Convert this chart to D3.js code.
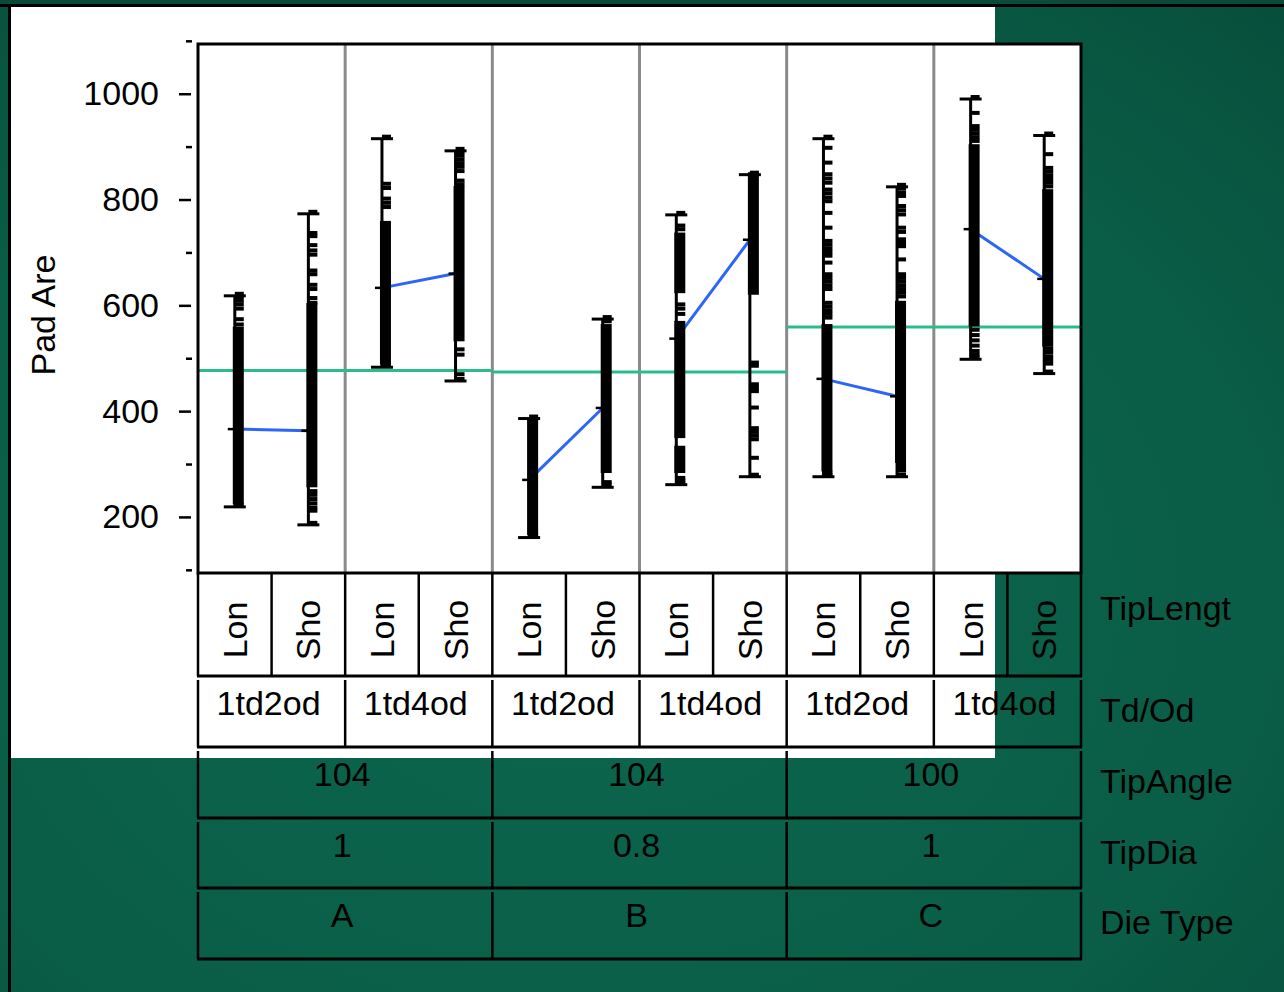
<!DOCTYPE html>
<html>
<head>
<meta charset="utf-8">
<script src="https://cdn.jsdelivr.net/npm/d3@7"></script>
<style>
  body { margin: 0; background: #0a5c45; }
  svg { display: block; font-family: "Liberation Sans", Arial, Helvetica, sans-serif; }
</style>
</head>
<body>
<svg id="chart" width="1284" height="992"></svg>
<script>
// ---- data -------------------------------------------------------------
const dieTypes   = ["A", "B", "C"];
const tipDias    = ["1", "0.8", "1"];
const tipAngles  = ["104", "104", "100"];
const tdOd       = ["1td2od", "1td4od"];
const tipLengths = ["Lon", "Sho"];
const rowTitles  = ["TipLengt", "Td/Od", "TipAngle", "TipDia", "Die Type"];
const yLabel     = "Pad Are";
const yTicks      = [200, 400, 600, 800, 1000];
const yMinorTicks = [100, 300, 500, 700, 900, 1100];

// groups in order: A·1td2od·Lon, A·1td2od·Sho, A·1td4od·Lon, A·1td4od·Sho, B..., C...
// stretches where the observations overlap into a solid run [low, high]
const denseRuns = [
  [[224, 552]],
  [[256, 597]],
  [[488, 752]],
  [[532, 818]],
  [[166, 380]],
  [[283, 557]],
  [[623, 730], [349, 563], [283, 327]],
  [[620, 844]],
  [[286, 557]],
  [[302, 601]],
  [[560, 897]],
  [[522, 812]]
];
// individually visible observations
const loosePoints = [
  [618, 612, 605, 598, 590, 570, 560, 219],
  [773, 733, 727, 710, 700, 692, 662, 655, 635, 627, 610, 601, 245, 238, 230, 222, 214, 208, 185],
  [915, 826, 818, 798, 790, 782, 483],
  [892, 886, 879, 872, 865, 858, 850, 832, 825, 513, 503, 466, 457],
  [386, 161],
  [574, 566, 262, 256],
  [771, 747, 740, 598, 590, 580, 270, 265, 261],
  [847, 488, 482, 447, 440, 434, 403, 364, 357, 350, 343, 308, 276],
  [915, 894, 866, 844, 836, 828, 815, 808, 800, 793, 771, 743, 718, 711, 704, 697, 690, 677,
   655, 648, 641, 634, 627, 601, 594, 587, 580, 573, 280, 276],
  [824, 818, 810, 803, 784, 776, 768, 743, 735, 721, 714, 708, 683, 655, 648, 641, 634, 627,
   620, 613, 295, 290, 284, 276],
  [990, 960, 935, 928, 921, 914, 907, 550, 540, 530, 520, 510, 503, 498],
  [921, 882, 856, 849, 842, 835, 828, 821, 515, 508, 500, 493, 486, 471]
];
const groupMeans = [366, 363, 633, 660, 270, 406, 537, 724, 461, 428, 744, 650];
const dieMeans   = [477, 474, 559];

// ---- layout -------------------------------------------------------------
const svg = d3.select("#chart");
const plot = { left: 198, right: 1081, top: 44, bottom: 573 };

// background
const defs = svg.append("defs");
const bg = defs.append("radialGradient").attr("id", "bg")
  .attr("cx", "0.45").attr("cy", "0.6").attr("r", "0.9");
bg.append("stop").attr("offset", "0").attr("stop-color", "#0c674e");
bg.append("stop").attr("offset", "0.6").attr("stop-color", "#0a5d46");
bg.append("stop").attr("offset", "1").attr("stop-color", "#064a38");
svg.append("rect").attr("width", 1284).attr("height", 992).attr("fill", "url(#bg)");
svg.append("rect").attr("x", 0).attr("y", 0).attr("width", 1284).attr("height", 5).attr("fill", "#0a4a39");
svg.append("line").attr("x1", 0).attr("x2", 1284).attr("y1", 5.5).attr("y2", 5.5)
  .attr("stroke", "#000").attr("stroke-width", 3);
svg.append("line").attr("x1", 9.5).attr("x2", 9.5).attr("y1", 5).attr("y2", 992)
  .attr("stroke", "#000").attr("stroke-width", 3);
svg.append("rect").attr("x", 11).attr("y", 7).attr("width", 984).attr("height", 751).attr("fill", "#fff");

// scales
const groupIds = [];
dieTypes.forEach(d => tdOd.forEach(t => tipLengths.forEach(l => groupIds.push(`${d}|${t}|${l}`))));
const cellIds = [];
dieTypes.forEach(d => tdOd.forEach(t => cellIds.push(`${d}|${t}`)));

const xGroup = d3.scaleBand().domain(groupIds).range([plot.left, plot.right]);
const xCell  = d3.scaleBand().domain(cellIds).range([plot.left, plot.right]);
const xDie   = d3.scaleBand().domain(dieTypes).range([plot.left, plot.right]);
const y = d3.scaleLinear().domain([94, 1094]).range([plot.bottom, plot.top]);

const groups = groupIds.map((id, i) => {
  const vals = loosePoints[i].concat(denseRuns[i].flat());
  return {
    id, cx: xGroup(id) + xGroup.bandwidth() / 2,
    runs: denseRuns[i], pts: loosePoints[i], mean: groupMeans[i],
    lo: d3.min(vals), hi: d3.max(vals)
  };
});

// plot area
svg.append("rect").attr("x", plot.left).attr("y", plot.top)
  .attr("width", plot.right - plot.left).attr("height", plot.bottom - plot.top).attr("fill", "#fff");

// cell separators
svg.append("g").selectAll("line").data(cellIds.slice(1)).join("line")
  .attr("x1", d => xCell(d)).attr("x2", d => xCell(d))
  .attr("y1", plot.top).attr("y2", plot.bottom)
  .attr("stroke", "#8a8a8a").attr("stroke-width", 3);

// die-type grand means
svg.append("g").selectAll("line").data(dieTypes).join("line")
  .attr("x1", d => xDie(d)).attr("x2", d => xDie(d) + xDie.bandwidth())
  .attr("y1", (d, i) => y(dieMeans[i])).attr("y2", (d, i) => y(dieMeans[i]))
  .attr("stroke", "#2cbb8b").attr("stroke-width", 3);

// cell means connecting Lon to Sho
const pairs = d3.range(0, groups.length, 2).map(i => [groups[i], groups[i + 1]]);
svg.append("g").selectAll("line").data(pairs).join("line")
  .attr("x1", d => d[0].cx).attr("y1", d => y(d[0].mean))
  .attr("x2", d => d[1].cx).attr("y2", d => y(d[1].mean))
  .attr("stroke", "#2b66f6").attr("stroke-width", 3);

const gMarks = svg.append("g");
// range bars
gMarks.selectAll("line.range").data(groups).join("line").attr("class", "range")
  .attr("x1", d => d.cx).attr("x2", d => d.cx)
  .attr("y1", d => y(d.hi)).attr("y2", d => y(d.lo))
  .attr("stroke", "#000").attr("stroke-width", 3);

// dense observation runs
gMarks.selectAll("g.runs").data(groups).join("g").attr("class", "runs")
  .selectAll("rect").data(d => d.runs.map(r => ({ cx: d.cx, r }))).join("rect")
  .attr("x", d => d.cx - 2).attr("width", 11)
  .attr("y", d => y(d.r[1]) - 4).attr("height", d => y(d.r[0]) - y(d.r[1]) + 4)
  .attr("fill", "#000");

// loose observations (dash markers)
gMarks.selectAll("g.pts").data(groups).join("g").attr("class", "pts")
  .selectAll("rect").data(d => d.pts.map(v => ({ cx: d.cx, v }))).join("rect")
  .attr("x", d => d.cx).attr("width", 9)
  .attr("y", d => y(d.v) - 4).attr("height", 4)
  .attr("fill", "#000");

// caps
["lo", "hi"].forEach(k => {
  gMarks.selectAll(`line.cap-${k}`).data(groups).join("line").attr("class", `cap-${k}`)
    .attr("x1", d => d.cx - 11).attr("x2", d => d.cx + 11)
    .attr("y1", d => y(d[k])).attr("y2", d => y(d[k]))
    .attr("stroke", "#000").attr("stroke-width", 3);
});

// group mean ticks
gMarks.selectAll("line.mean").data(groups).join("line").attr("class", "mean")
  .attr("x1", d => d.cx - 7).attr("x2", d => d.cx)
  .attr("y1", d => y(d.mean)).attr("y2", d => y(d.mean))
  .attr("stroke", "#000").attr("stroke-width", 2.5);

// frame
svg.append("rect").attr("x", plot.left).attr("y", plot.top)
  .attr("width", plot.right - plot.left).attr("height", plot.bottom - plot.top)
  .attr("fill", "none").attr("stroke", "#000").attr("stroke-width", 3);

// y axis
const fontSize = 34;
const axis = svg.append("g").attr("transform", "translate(191,0)")
  .call(d3.axisLeft(y).tickValues(yTicks).tickFormat(d3.format("d")).tickSize(12).tickPadding(20));
axis.select(".domain").remove();
axis.selectAll(".tick line").attr("stroke", "#000").attr("stroke-width", 2.5);
axis.selectAll(".tick text").attr("fill", "#000").attr("font-size", fontSize)
  .attr("font-family", "Liberation Sans, Arial, sans-serif");
const minor = svg.append("g").attr("transform", "translate(192,0)")
  .call(d3.axisLeft(y).tickValues(yMinorTicks).tickSize(6).tickFormat(""));
minor.select(".domain").remove();
minor.selectAll(".tick line").attr("stroke", "#000").attr("stroke-width", 2.5);

svg.append("text").attr("transform", "translate(55,315) rotate(-90)")
  .attr("text-anchor", "middle").attr("font-size", fontSize).attr("fill", "#000")
  .text(yLabel);

// ---- factor table under the plot -----------------------------------------
const rows = [
  { top: plot.bottom, bottom: 676, scale: xGroup, ids: groupIds, labels: groupIds.map(id => id.split("|")[2]), rotate: true },
  { top: 680, bottom: 747, scale: xCell, ids: cellIds, labels: cellIds.map(id => id.split("|")[1]), textY: 715 },
  { top: 751, bottom: 818, scale: xDie, ids: dieTypes, labels: tipAngles, textY: 786 },
  { top: 822, bottom: 888, scale: xDie, ids: dieTypes, labels: tipDias, textY: 857 },
  { top: 892, bottom: 959, scale: xDie, ids: dieTypes, labels: dieTypes, textY: 927 }
];
const titleY = [620, 722, 793, 864, 934];

const table = svg.append("g");
rows.forEach((row, ri) => {
  const g = table.append("g");
  const bounds = row.ids.map(id => row.scale(id)).concat([plot.right]);
  g.selectAll("line.v").data(bounds).join("line").attr("class", "v")
    .attr("x1", d => d).attr("x2", d => d).attr("y1", row.top).attr("y2", row.bottom)
    .attr("stroke", "#000").attr("stroke-width", 2.5);
  g.append("line").attr("x1", plot.left - 1).attr("x2", plot.right + 1)
    .attr("y1", row.bottom).attr("y2", row.bottom)
    .attr("stroke", "#000").attr("stroke-width", 3);
  g.selectAll("text").data(row.ids).join("text")
    .attr("font-size", fontSize).attr("fill", "#000").attr("text-anchor", "middle")
    .attr("transform", (d, i) => {
      const cx = row.scale(d) + row.scale.bandwidth() / 2;
      return row.rotate ? `translate(${cx + 12},630) rotate(-90)` : `translate(${cx - 3},${row.textY})`;
    })
    .text((d, i) => row.labels[i]);
  table.append("text").attr("x", 1100).attr("y", titleY[ri])
    .attr("font-size", fontSize).attr("fill", "#000").text(rowTitles[ri]);
});
</script>
</body>
</html>
